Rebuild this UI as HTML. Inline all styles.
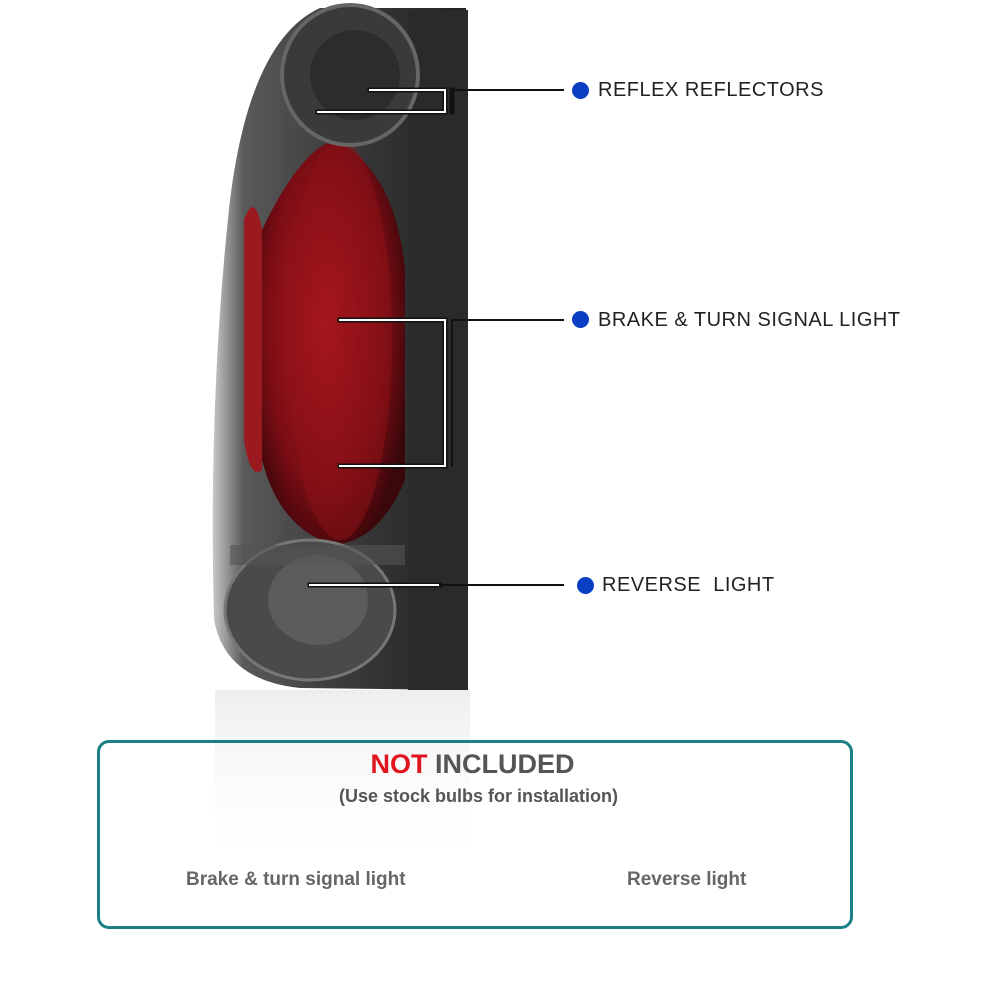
<!DOCTYPE html>
<html><head><meta charset="utf-8"><style>
html,body{margin:0;padding:0;background:#fff;}
body{width:1000px;height:1000px;position:relative;overflow:hidden;font-family:"Liberation Sans",sans-serif;}
.lbl{position:absolute;font-size:20px;color:#222;letter-spacing:0.5px;}
.dot{position:absolute;width:17px;height:17px;border-radius:50%;background:#0a3fc4;}
.box{position:absolute;left:97px;top:740px;width:750px;height:183px;border:3px solid #1c7f86;border-radius:12px;}
</style></head><body>
<svg width="1000" height="1000" style="position:absolute;left:0;top:0">
<defs>
<linearGradient id="hous" x1="0" x2="1" y1="0" y2="0">
<stop offset="0" stop-color="#c8c8c8"/><stop offset="0.12" stop-color="#5a5a5a"/><stop offset="0.5" stop-color="#3b3b3b"/><stop offset="1" stop-color="#222"/></linearGradient>
<radialGradient id="red" cx="0.45" cy="0.45" r="0.6">
<stop offset="0" stop-color="#c01b22"/><stop offset="0.7" stop-color="#7a0d14"/><stop offset="1" stop-color="#3a070a"/></radialGradient>
<linearGradient id="refl" x1="0" x2="0" y1="0" y2="1">
<stop offset="0" stop-color="#bbb" stop-opacity="0.25"/><stop offset="0.6" stop-color="#fff" stop-opacity="0"/></linearGradient>
</defs>
<path d="M215 690 L470 690 L470 1000 L215 1000 Z" fill="url(#refl)"/>
<path d="M320 8 L466 8 L468 690 L300 688 Q225 680 214 620 Q208 400 230 200 Q250 40 320 8 Z" fill="url(#hous)"/>
<rect x="408" y="10" width="60" height="680" fill="#2a2a2a"/>
<path d="M262 230 Q300 150 335 140 Q395 170 405 270 L405 480 Q380 540 335 545 Q280 530 262 460 Z" fill="url(#red)"/>
<ellipse cx="340" cy="340" rx="52" ry="200" fill="#8c1118" opacity="0.5"/>
<path d="M244 220 Q255 190 262 230 L262 470 Q250 480 244 440 Z" fill="#9a1a20"/>
<ellipse cx="350" cy="75" rx="68" ry="70" fill="#3a3a3a" stroke="#666" stroke-width="4"/>
<ellipse cx="355" cy="75" rx="45" ry="45" fill="#2c2c2c"/>
<ellipse cx="310" cy="610" rx="85" ry="70" fill="#4a4a4a" stroke="#777" stroke-width="3"/>
<ellipse cx="318" cy="600" rx="50" ry="45" fill="#5c5c5c"/>
<rect x="230" y="545" width="175" height="20" fill="#555" opacity="0.6"/>
<g fill="none" stroke-linecap="square">
<g stroke="#111" stroke-width="5">
<path d="M370 90 L445 90 M318 112 L445 112 M445 90 L445 112 M452 90 L452 112"/>
<path d="M340 320 L445 320 M340 466 L445 466 M445 320 L445 466"/>
<path d="M310 585 L440 585"/>
</g>
<g stroke="#fff" stroke-width="2">
<path d="M370 90 L445 90 M318 112 L445 112 M445 90 L445 112"/>
<path d="M340 320 L445 320 M340 466 L445 466 M445 320 L445 466"/>
<path d="M310 585 L440 585"/>
</g>
<g stroke="#111" stroke-width="2">
<path d="M452 90 L563 90"/>
<path d="M452 320 L563 320 M452 320 L452 466"/>
<path d="M440 585 L563 585"/>
</g>
</g>
</svg>
<div class="dot" style="left:572px;top:82px"></div>
<div class="lbl" style="left:598px;top:79px">REFLEX REFLECTORS</div>
<div class="dot" style="left:572px;top:311px"></div>
<div class="lbl" style="left:598px;top:309px">BRAKE &amp; TURN SIGNAL LIGHT</div>
<div class="dot" style="left:577px;top:577px"></div>
<div class="lbl" style="left:602px;top:574px">REVERSE&nbsp; LIGHT</div>
<div class="box"></div>
<div style="position:absolute;left:0;width:945px;top:749px;text-align:center;font-size:27px;font-weight:bold;color:#555"><span style="color:#e0141e">NOT</span> INCLUDED</div>
<div style="position:absolute;left:0;width:957px;top:786px;text-align:center;font-size:18px;font-weight:bold;color:#555">(Use stock bulbs for installation)</div>
<div style="position:absolute;left:186px;top:869px;font-size:19px;font-weight:bold;color:#666">Brake &amp; turn signal light</div>
<div style="position:absolute;left:627px;top:869px;font-size:19px;font-weight:bold;color:#666">Reverse light</div>
</body></html>
